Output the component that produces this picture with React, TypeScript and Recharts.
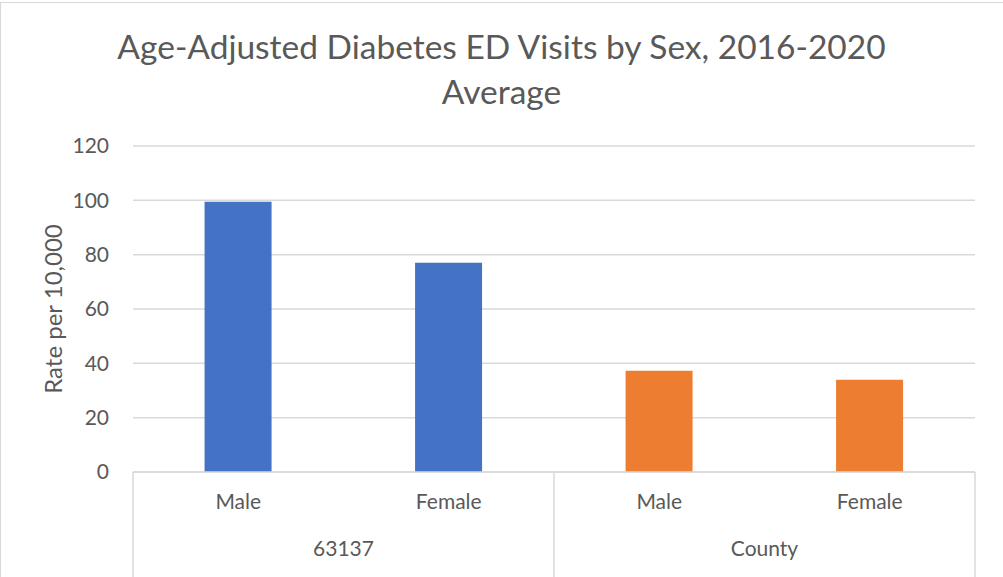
import React from 'react'
import { Bar, BarChart, CartesianGrid, Cell, XAxis, YAxis, Label } from 'recharts'

const categories = ['Male', 'Female', 'Male', 'Female']
const groups = ['63137', '63137', 'County', 'County']
const rates = [99.5, 77.0, 37.3, 34.0]
const colors = ['#4472C4', '#4472C4', '#ED7D31', '#ED7D31']
const yTicks = [0, 20, 40, 60, 80, 100, 120]

const W = 1003
const H = 577
const PLOT_LEFT = 133
const PLOT_RIGHT = 975
const BAND = (PLOT_RIGHT - PLOT_LEFT) / categories.length
const FONT = 'Lato, "Open Sans", sans-serif'
const GRID = '#d9d9d9'
const TEXT = '#595959'

const chartData = categories.map((c, i) => ({
  name: `${groups[i]}-${c}`,
  label: c,
  group: groups[i],
  value: rates[i],
}))

function CategoryTick(props: any) {
  const { x, y, index } = props
  const isFirst = index === 0 || groups[index] !== groups[index - 1]
  const isLast = index === categories.length - 1
  return (
    <g>
      <text x={x} y={y + 37} textAnchor="middle" fill={TEXT} fontSize={21} fontFamily={FONT}>
        {categories[index]}
      </text>
      {isFirst && <line x1={x - BAND / 2} x2={x - BAND / 2} y1={y} y2={y + 105} stroke={GRID} strokeWidth={1.5} />}
      {isLast && <line x1={x + BAND / 2} x2={x + BAND / 2} y1={y} y2={y + 105} stroke={GRID} strokeWidth={1.5} />}
    </g>
  )
}

function GroupTick(props: any) {
  const { x, y, payload } = props
  return (
    <text x={x} y={y + 24} textAnchor="middle" fill={TEXT} fontSize={21} fontFamily={FONT}>
      {payload.value}
    </text>
  )
}

export default function App() {
  return (
    <div style={{ position: 'absolute', left: 0, top: 0, width: W, height: H, background: '#fff' }}>
      <div style={{ position: 'absolute', left: 0, top: 2, width: W, height: H, borderTop: `1px solid ${GRID}`, borderLeft: `1px solid ${GRID}` }} />
      <div
        style={{
          position: 'absolute',
          left: 0,
          top: 24,
          width: W,
          textAlign: 'center',
          fontFamily: FONT,
          fontSize: 33.5,
          lineHeight: '45px',
          color: TEXT,
        }}
      >
        Age-Adjusted Diabetes ED Visits by Sex, 2016-2020
        <br />
        Average
      </div>
      <BarChart
        width={W}
        height={H}
        data={chartData}
        margin={{ top: 146, right: W - PLOT_RIGHT, bottom: 0, left: 0 }}
        barCategoryGap="34%"
        style={{ position: 'absolute', left: 0, top: 0 }}
      >
        <CartesianGrid vertical={false} stroke={GRID} strokeWidth={1.5} />
        <XAxis
          dataKey="name"
          height={60}
          axisLine={{ stroke: GRID, strokeWidth: 1.5 }}
          tickLine={false}
          tickSize={0}
          tickMargin={0}
          interval={0}
          tick={<CategoryTick />}
        />
        <XAxis
          xAxisId="grp"
          dataKey="group"
          allowDuplicatedCategory={false}
          height={45}
          axisLine={false}
          tickLine={false}
          tickSize={0}
          tickMargin={0}
          interval={0}
          tick={<GroupTick />}
        />
        <YAxis
          width={PLOT_LEFT}
          domain={[0, 120]}
          ticks={yTicks}
          axisLine={false}
          tickLine={false}
          tickMargin={18}
          tick={{ fill: TEXT, fontSize: 21, fontFamily: FONT }}
        >
          <Label
            content={({ viewBox }: any) => {
              const cx = viewBox.x + 52
              const cy = viewBox.y + viewBox.height / 2
              return (
                <text
                  x={cx}
                  y={cy}
                  transform={`rotate(-90 ${cx} ${cy})`}
                  textAnchor="middle"
                  dominantBaseline="central"
                  fill={TEXT}
                  fontSize={24}
                  fontFamily={FONT}
                >
                  Rate per 10,000
                </text>
              )
            }}
          />
        </YAxis>
        <Bar dataKey="value" isAnimationActive={false}>
          {chartData.map((d, i) => (
            <Cell key={d.name} fill={colors[i]} />
          ))}
        </Bar>
      </BarChart>
    </div>
  )
}
